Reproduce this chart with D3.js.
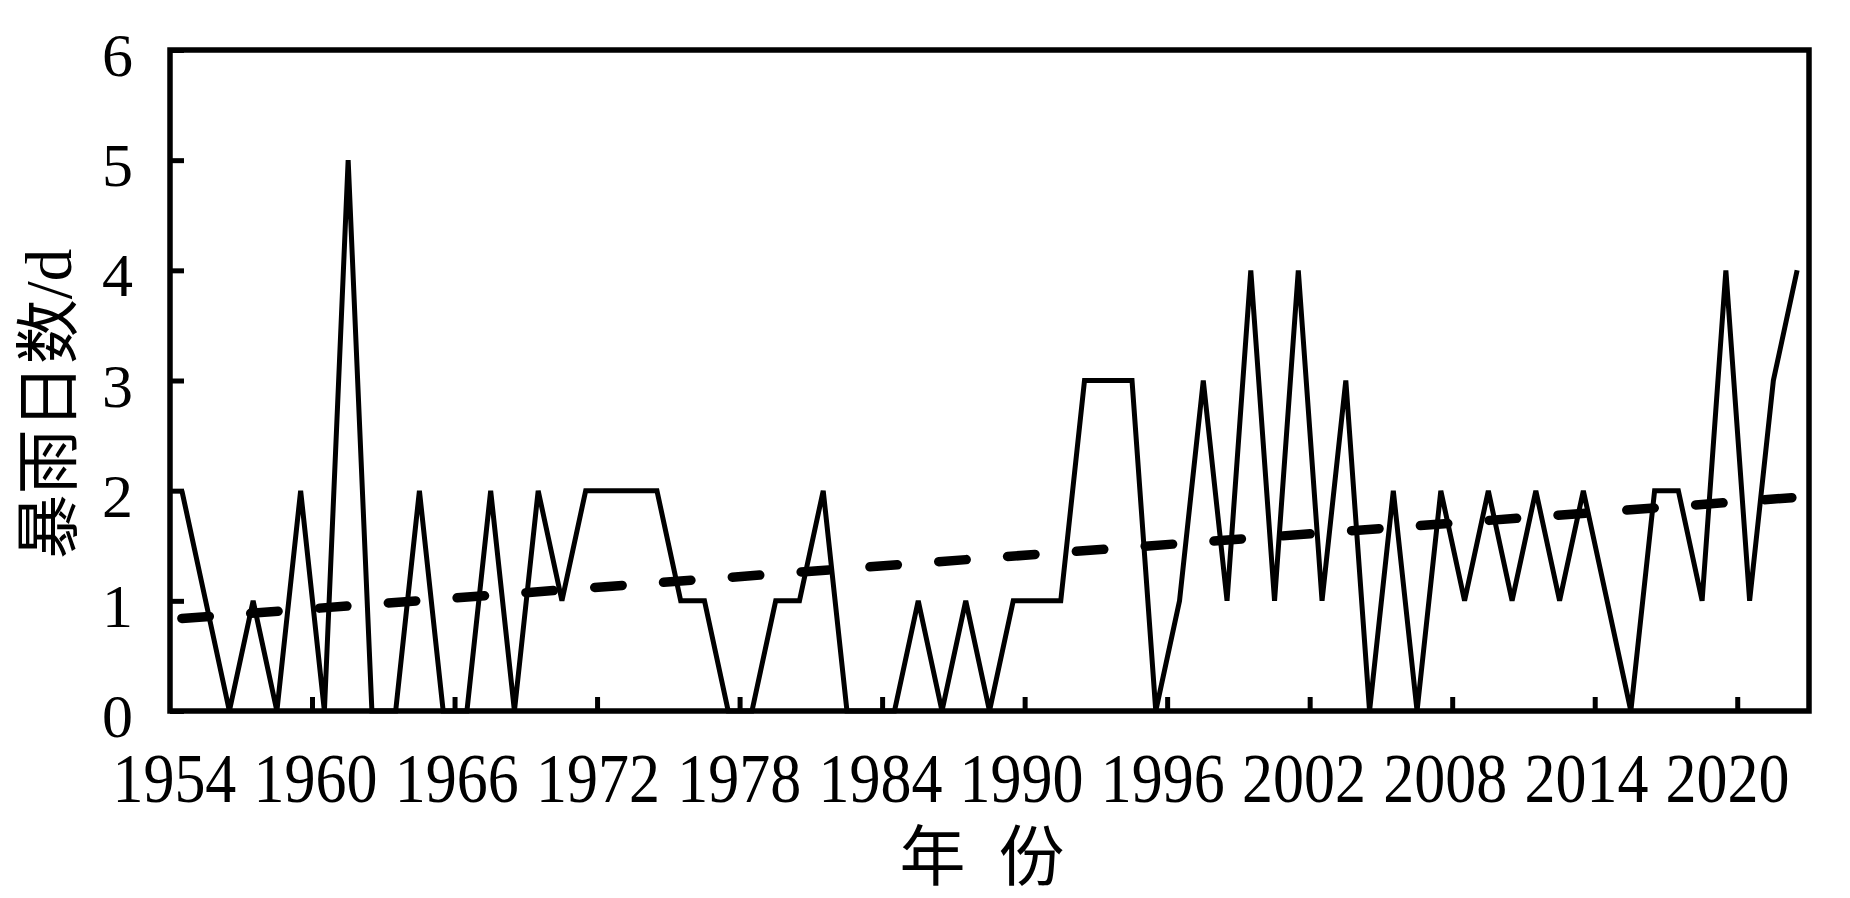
<!DOCTYPE html>
<html>
<head>
<meta charset="utf-8">
<script src="https://cdn.jsdelivr.net/npm/d3@7"></script>
<style>
  html, body { margin: 0; padding: 0; background: #fff; }
  svg { display: block; }
  text { font-family: "Liberation Serif", "Times New Roman", "Noto Sans CJK SC", serif; fill: #000; }
</style>
</head>
<body>
<svg id="chart" width="1850" height="898"></svg>
<script>
// ---- data ----
const years = d3.range(1954, 2023);
const stormDays = [
  2, 1, 0, 1, 0, 2, 0, 5, 0, 0,   // 1954-1963
  2, 0, 0, 2, 0, 2, 1, 2, 2, 2,   // 1964-1973
  2, 1, 1, 0, 0, 1, 1, 2, 0, 0,   // 1974-1983
  0, 1, 0, 1, 0, 1, 1, 1, 3, 3,   // 1984-1993
  3, 0, 1, 3, 1, 4, 1, 4, 1, 3,   // 1994-2003
  0, 2, 0, 2, 1, 2, 1, 2, 1, 2,   // 2004-2013
  1, 0, 2, 2, 1, 4, 1, 3, 4       // 2014-2022
];
const trendYears = [1954, 2022];
const trendValues = [0.84, 1.94];
const xTickLabels = [1954, 1960, 1966, 1972, 1978, 1984, 1990, 1996, 2002, 2008, 2014, 2020];
const yTicks = [0, 1, 2, 3, 4, 5, 6];
const yTitle = "暴雨日数/d";
const xTitle = "年  份";

// ---- layout ----
const svg = d3.select("#chart");
const plotL = 170, plotR = 1809, plotT = 50, plotB = 711;

const x = d3.scaleBand().domain(years).range([plotL, plotR]).paddingInner(0).paddingOuter(0);
const xc = yr => x(yr) + x.bandwidth() / 2;
const y = d3.scaleLinear().domain([0, 6]).range([plotB, plotT]);

// frame
svg.append("rect")
  .attr("x", plotL).attr("y", plotT)
  .attr("width", plotR - plotL).attr("height", plotB - plotT)
  .attr("fill", "none").attr("stroke", "#000").attr("stroke-width", 5.5);

// y ticks (inward)
const yAxis = d3.axisRight(y).tickValues(yTicks).tickSize(14).tickFormat("");
const gy = svg.append("g").attr("transform", `translate(${plotL},0)`).call(yAxis);
gy.select(".domain").remove();
gy.selectAll(".tick line").attr("stroke", "#000").attr("stroke-width", 5);

// y tick labels
svg.append("g").selectAll("text").data(yTicks).join("text")
  .attr("x", 133).attr("y", d => y(d) + 26)
  .attr("text-anchor", "end")
  .attr("font-size", 62)
  .text(d => d);

// x ticks: at category boundaries every 6 years (inward)
const xTickYears = xTickLabels.slice(1);
svg.append("g").selectAll("line").data(xTickYears).join("line")
  .attr("x1", d => x(d)).attr("x2", d => x(d))
  .attr("y1", plotB).attr("y2", plotB - 14)
  .attr("stroke", "#000").attr("stroke-width", 5);

// x tick labels
svg.append("g").selectAll("text").data(xTickLabels).join("text")
  .attr("transform", d => `translate(${xc(d) - 7.5 - 0.22 * (d - 1954)},802) scale(1,1.12)`)
  .attr("text-anchor", "middle")
  .attr("font-size", 62)
  .text(d => d);

// main series
const line = d3.line().x(d => xc(d[0])).y(d => y(d[1]));
svg.append("path")
  .datum(years.map((yr, i) => [yr, stormDays[i]]))
  .attr("d", line)
  .attr("fill", "none").attr("stroke", "#000")
  .attr("stroke-width", 5).attr("stroke-linejoin", "miter").attr("stroke-miterlimit", 3);

// trend line
svg.append("path")
  .datum(trendYears.map((yr, i) => [yr, trendValues[i]]))
  .attr("d", line)
  .attr("fill", "none").attr("stroke", "#000")
  .attr("stroke-width", 9.5).attr("stroke-linecap", "round")
  .attr("stroke-dasharray", "27.5 41.5");

// axis titles
svg.append("text")
  .attr("transform", "translate(71,404) rotate(-90)")
  .attr("text-anchor", "middle")
  .attr("font-size", 65)
  .text(yTitle);

svg.append("text")
  .attr("x", 982).attr("y", 880)
  .attr("text-anchor", "middle")
  .attr("font-size", 66)
  .style("white-space", "pre")
  .text(xTitle);
</script>
</body>
</html>
